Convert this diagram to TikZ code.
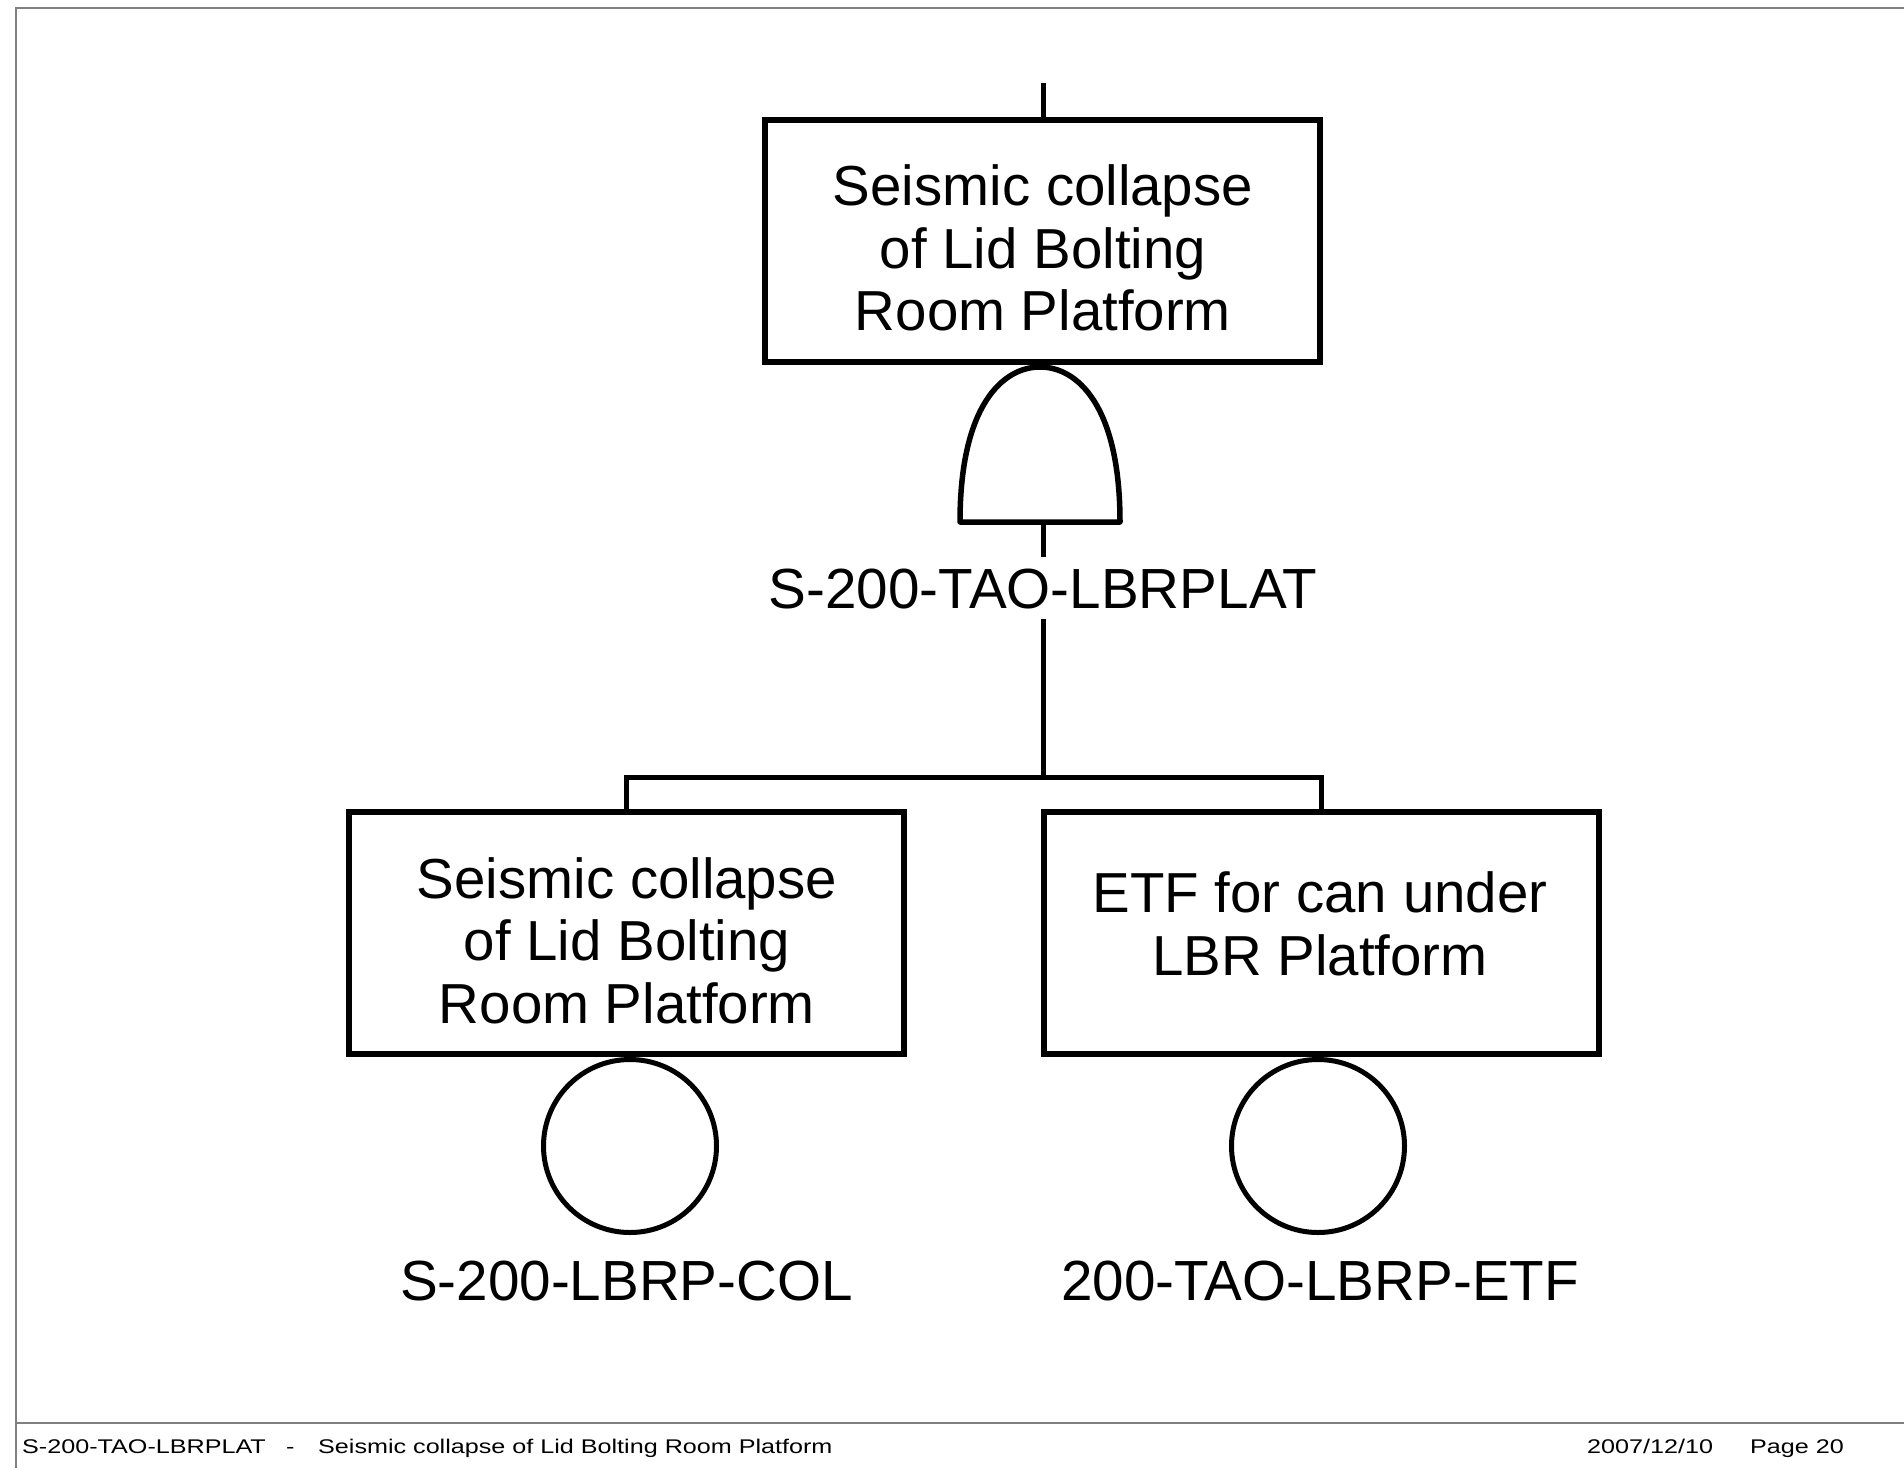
\documentclass[tikz,border=0pt]{standalone}
\usepackage{fontspec}
\setmainfont{Liberation Sans}
\newfontfamily\footfont[FakeStretch=1.27]{Liberation Sans}
\begin{document}
\begin{tikzpicture}[x=1pt,y=-1pt,
  frame/.style={draw=black!50,line width=1.6pt},
  evbox/.style={draw,line width=6pt,minimum width=555pt,minimum height=242pt,inner sep=0pt},
  evtext/.style={align=center,font=\fontsize{56.4}{62.5}\selectfont,inner sep=0pt},
  lab/.style={font=\fontsize{56.6}{62.5}\selectfont,text height=40pt,text depth=0pt,inner xsep=4pt,inner ysep=11pt},
  conn/.style={line width=5pt},
  gate/.style={draw,line width=5.5pt,line join=round},
  basic/.style={circle,draw,line width=5pt,minimum size=173pt,inner sep=0pt},
  foot/.style={font=\footfont\fontsize{19.8}{24}\selectfont,inner sep=0pt,anchor=base west}]
\useasboundingbox (0,0) rectangle (1904,1468);
% page frame
\draw[frame] (1904,8) -- (16,8) -- (16,1468);
\draw[frame] (16,1423) -- (1904,1423);
% footer
\node[foot] (f1) at (22,1453) {S-200-TAO-LBRPLAT};
\node[foot] (f2) at (286,1453) {-};
\node[foot] (f3) at (318,1453) {Seismic collapse of Lid Bolting Room Platform};
\node[foot] (f4) at (1587,1453) {2007/12/10};
\node[foot] (f5) at (1750,1453) {Page 20};
% top event
\coordinate (topin) at (1043,83);
\node[evbox] (top) at (1042.5,240.5) {};
\node[evtext] (toptxt) at (1043,248.2) {Seismic collapse\\of Lid Bolting\\Room Platform};
\draw[conn] (topin) -- (topin |- top.north);
% AND gate
\coordinate (gbl) at (960,522);
\coordinate (gbr) at (1120,522);
\coordinate (gtop) at (1040,367);
\coordinate (gout) at (1043,522);
\draw[gate] (gbl) .. controls (960,405) and (1003,367) .. (gtop)
  .. controls (1077,367) and (1120,405) .. (gbr) -- cycle;
\node[lab,anchor=base] (glab) at (1043,608) {S-200-TAO-LBRPLAT};
\draw[conn] (gout) -- (glab.north);
\coordinate (bar) at (1043,777);
\draw[conn] (glab.south) -- (bar);
% children
\node[evbox] (L) at (626.5,933) {};
\node[evtext] (Ltxt) at (627,940.7) {Seismic collapse\\of Lid Bolting\\Room Platform};
\node[evbox] (R) at (1321.5,933) {};
\node[evtext] (Rtxt) at (1320,923.8) {ETF for can under\\LBR Platform};
\draw[conn,line join=miter] (L.north) |- (bar) -| (R.north);
% basic events
\node[basic] (Lc) at (630,1146) {};
\node[basic] (Rc) at (1318,1146) {};
\node[lab,anchor=base] (Llab) at (626.5,1300) {S-200-LBRP-COL};
\node[lab,anchor=base] (Rlab) at (1320,1300) {200-TAO-LBRP-ETF};
\end{tikzpicture}
\end{document}
